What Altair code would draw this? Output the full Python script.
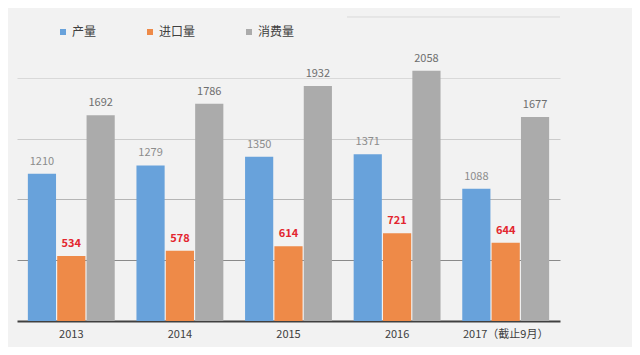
import altair as alt
import pandas as pd

years = ["2013", "2014", "2015", "2016", "2017（截止9月）"]
production = [1210, 1279, 1350, 1371, 1088]
imports = [534, 578, 614, 721, 644]
consumption = [1692, 1786, 1932, 2058, 1677]
series = ["产量", "进口量", "消费量"]
colors = ["#68a2db", "#ee8a48", "#ababab"]
grid_values = [500, 1000, 1500, 2000]
top_grid = [2500]

rows = []
for i, yr in enumerate(years):
    for s, vals in zip(series, [production, imports, consumption]):
        rows.append({"year": yr, "series": s, "value": vals[i]})
df = pd.DataFrame(rows)

FONT = "Noto Sans CJK SC"

x = alt.X(
    "year:N",
    sort=years,
    scale=alt.Scale(paddingInner=0.2, paddingOuter=0.1),
    axis=alt.Axis(
        title=None, labelAngle=0, ticks=False, domainColor="#404040",
        domainWidth=2, labelColor="#404040", labelFontSize=11,
        labelPadding=7, labelFont=FONT, grid=False,
    ),
)
xoff = alt.XOffset("series:N", sort=series,
                   scale=alt.Scale(domain=series, paddingInner=0.04))
y = alt.Y(
    "value:Q",
    scale=alt.Scale(domain=[0, 2500], nice=False),
    axis=alt.Axis(
        title=None, labels=False, ticks=False, domain=False,
        values=grid_values, gridWidth=1,
        gridColor={
            "condition": [
                {"test": "datum.value === 500", "value": "#8a8a8a"},
                {"test": "datum.value === 1000", "value": "#b5b5b5"},
                {"test": "datum.value === 1500", "value": "#cccccc"},
            ],
            "value": "#d9d9d9",
        },
    ),
)

base = alt.Chart(df)

bars = base.mark_bar().encode(
    x=x, xOffset=xoff, y=y,
    color=alt.Color(
        "series:N", sort=series,
        scale=alt.Scale(domain=series, range=colors),
        legend=alt.Legend(
            title=None, orient="none", direction="horizontal",
            legendX=40, legendY=9, symbolType="square", symbolSize=36,
            symbolStrokeWidth=0, labelFontSize=12, labelColor="#404040",
            labelFont=FONT, columnPadding=47, labelOffset=3, padding=0,
        ),
    ),
)

label_styles = [
    ("产量", "#8c8c8c", "normal"),
    ("进口量", "#e3262f", "bold"),
    ("消费量", "#6e6e6e", "normal"),
]
labels = []
for s, c, w in label_styles:
    labels.append(
        base.transform_filter(alt.datum.series == s)
        .mark_text(dy=-9, baseline="alphabetic", fontSize=11, color=c,
                   fontWeight=w, font=FONT)
        .encode(x=x, xOffset=xoff, y=y, text="value:Q")
    )

top_rule = (
    alt.Chart(pd.DataFrame({"v": top_grid}))
    .mark_rule(color="#d9d9d9", strokeWidth=1)
    .encode(y=alt.Y("v:Q"), x=alt.value(330), x2=alt.value(543))
)

chart = (
    alt.layer(top_rule, bars, *labels)
    .properties(
        width=543, height=304, background="#f2f2f2",
        padding={"left": 9, "top": 9, "right": 72, "bottom": 26},
        autosize=alt.AutoSizeParams(type="none"),
    )
    .configure_view(stroke=None)
)

chart.save("out.html", embed_options={"renderer": "svg", "actions": False})
